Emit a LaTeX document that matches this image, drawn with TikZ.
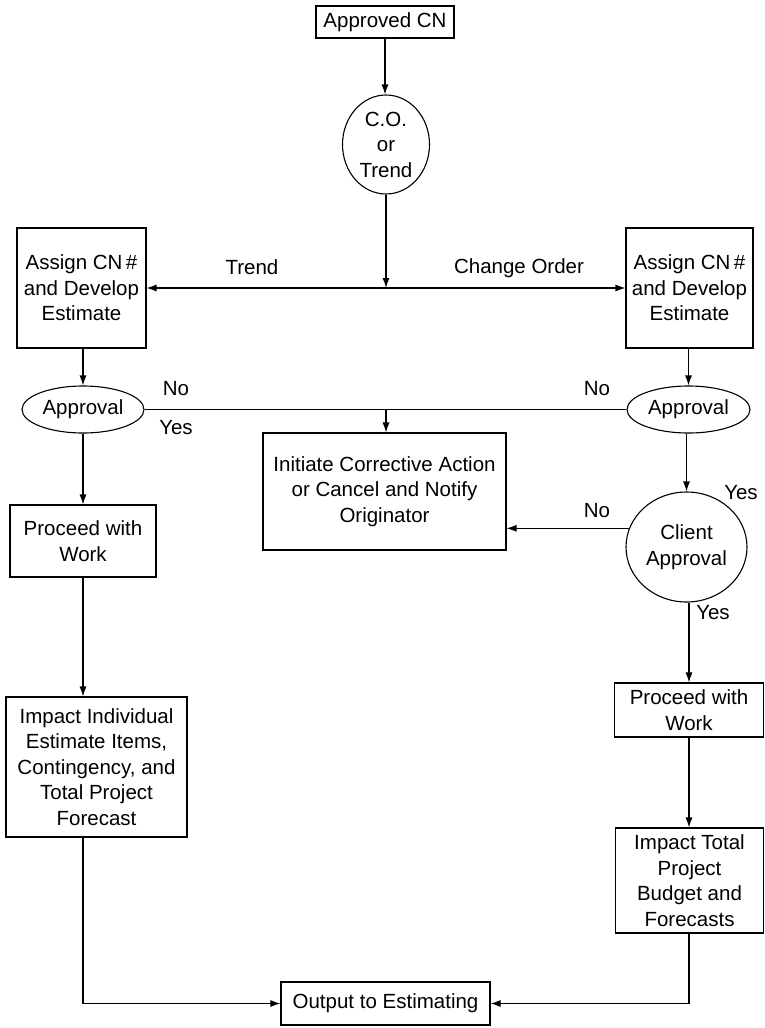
\documentclass[tikz,border=0pt]{standalone}
\usepackage{fontspec}
\setmainfont{Liberation Sans}
\usetikzlibrary{shapes.geometric,arrows.meta}
\tikzset{
  base/.style={draw, line width=1.1pt, align=center, inner sep=0pt,
    font=\fontsize{20.5}{25.5}\selectfont},
  box/.style={base, rectangle},
  oval/.style={base, ellipse},
  lbl/.style={font=\fontsize{20.5}{25.5}\selectfont, inner sep=0pt},
  arr/.style={line width=1.1pt, -{Latex[length=10pt,width=7pt]}},
  ln/.style={line width=1.1pt}
}
\begin{document}
\begin{tikzpicture}[x=1pt,y=-1pt]
\useasboundingbox (0,0) rectangle (765,1028);
\node[box, minimum width=138, minimum height=32] (cn) at (385,22) {Approved CN};
\node[oval, minimum width=87, minimum height=99] (co) at (386,144.5) {C.O.\\or\\Trend};
\node[box, minimum width=129, minimum height=120] (la) at (81.5,288) {Assign CN\,\#\\and Develop\\Estimate};
\node[box, minimum width=127, minimum height=120] (ra) at (689.5,288) {Assign CN\,\#\\and Develop\\Estimate};
\node[oval, minimum width=122, minimum height=47] (lap) at (83,409.5) {Approval};
\node[oval, minimum width=123, minimum height=47] (rap) at (688.5,409.5) {Approval};
\node[box, minimum width=243, minimum height=117] (mid) at (384.5,491.5) {Initiate Corrective Action\\or Cancel and Notify\\Originator};
\node[oval, minimum width=121, minimum height=110] (cap) at (686.5,547) {Client\\Approval};
\node[box, minimum width=146, minimum height=72] (lpw) at (83,541) {Proceed with\\Work};
\node[box, minimum width=181, minimum height=140] (lim) at (96.5,767) {Impact Individual\\Estimate Items,\\Contingency, and\\Total Project\\Forecast};
\node[box, minimum width=149, minimum height=54] (rpw) at (689,710) {Proceed with\\Work};
\node[box, minimum width=148, minimum height=105] (rim) at (689.5,880.5) {Impact Total\\Project\\Budget and\\Forecasts};
\node[box, minimum width=209, minimum height=43] (out) at (385.5,1003.5) {Output to Estimating};

\coordinate (j1) at (co.south |- la.east);
\coordinate (j2) at (co.south |- lap.east);

\draw[arr] (cn.south) -- (cn.south |- co.north);
\draw[arr] (co.south) -- (j1);
\draw[arr] (j1) -- (la.east);
\draw[arr] (j1) -- (ra.west);
\draw[arr] (la.south -| lap.north) -- (lap.north);
\draw[arr] (ra.south -| rap.north) -- (rap.north);
\draw[ln] (lap.east) -- (rap.west);
\draw[arr] (j2) -- (j2 |- mid.north);
\draw[arr] (lap.south) -- (lpw.north);
\draw[arr] (rap.south -| cap.north) -- (cap.north);
\draw[arr] (cap.162.5) -- (mid.east |- cap.162.5);
\draw[arr] (lpw.south) -- (lpw.south |- lim.north);
\draw[arr] (cap.south -| rpw.north) -- (rpw.north);
\draw[arr] (rpw.south) -- (rpw.south |- rim.north);
\draw[arr] (lpw.south |- lim.south) |- (out.west);
\draw[arr] (rim.south -| rpw.south) |- (out.east);

\node[lbl] (t1) at (252,267) {Trend};
\node[lbl] (t2) at (519,268) {Change Order};
\node[lbl] (t3) at (176,389) {No};
\node[lbl] (t4) at (176,428) {Yes};
\node[lbl] (t5) at (597,389) {No};
\node[lbl] (t6) at (741,493) {Yes};
\node[lbl] (t7) at (597,511) {No};
\node[lbl] (t8) at (713,613) {Yes};
\end{tikzpicture}
\end{document}
